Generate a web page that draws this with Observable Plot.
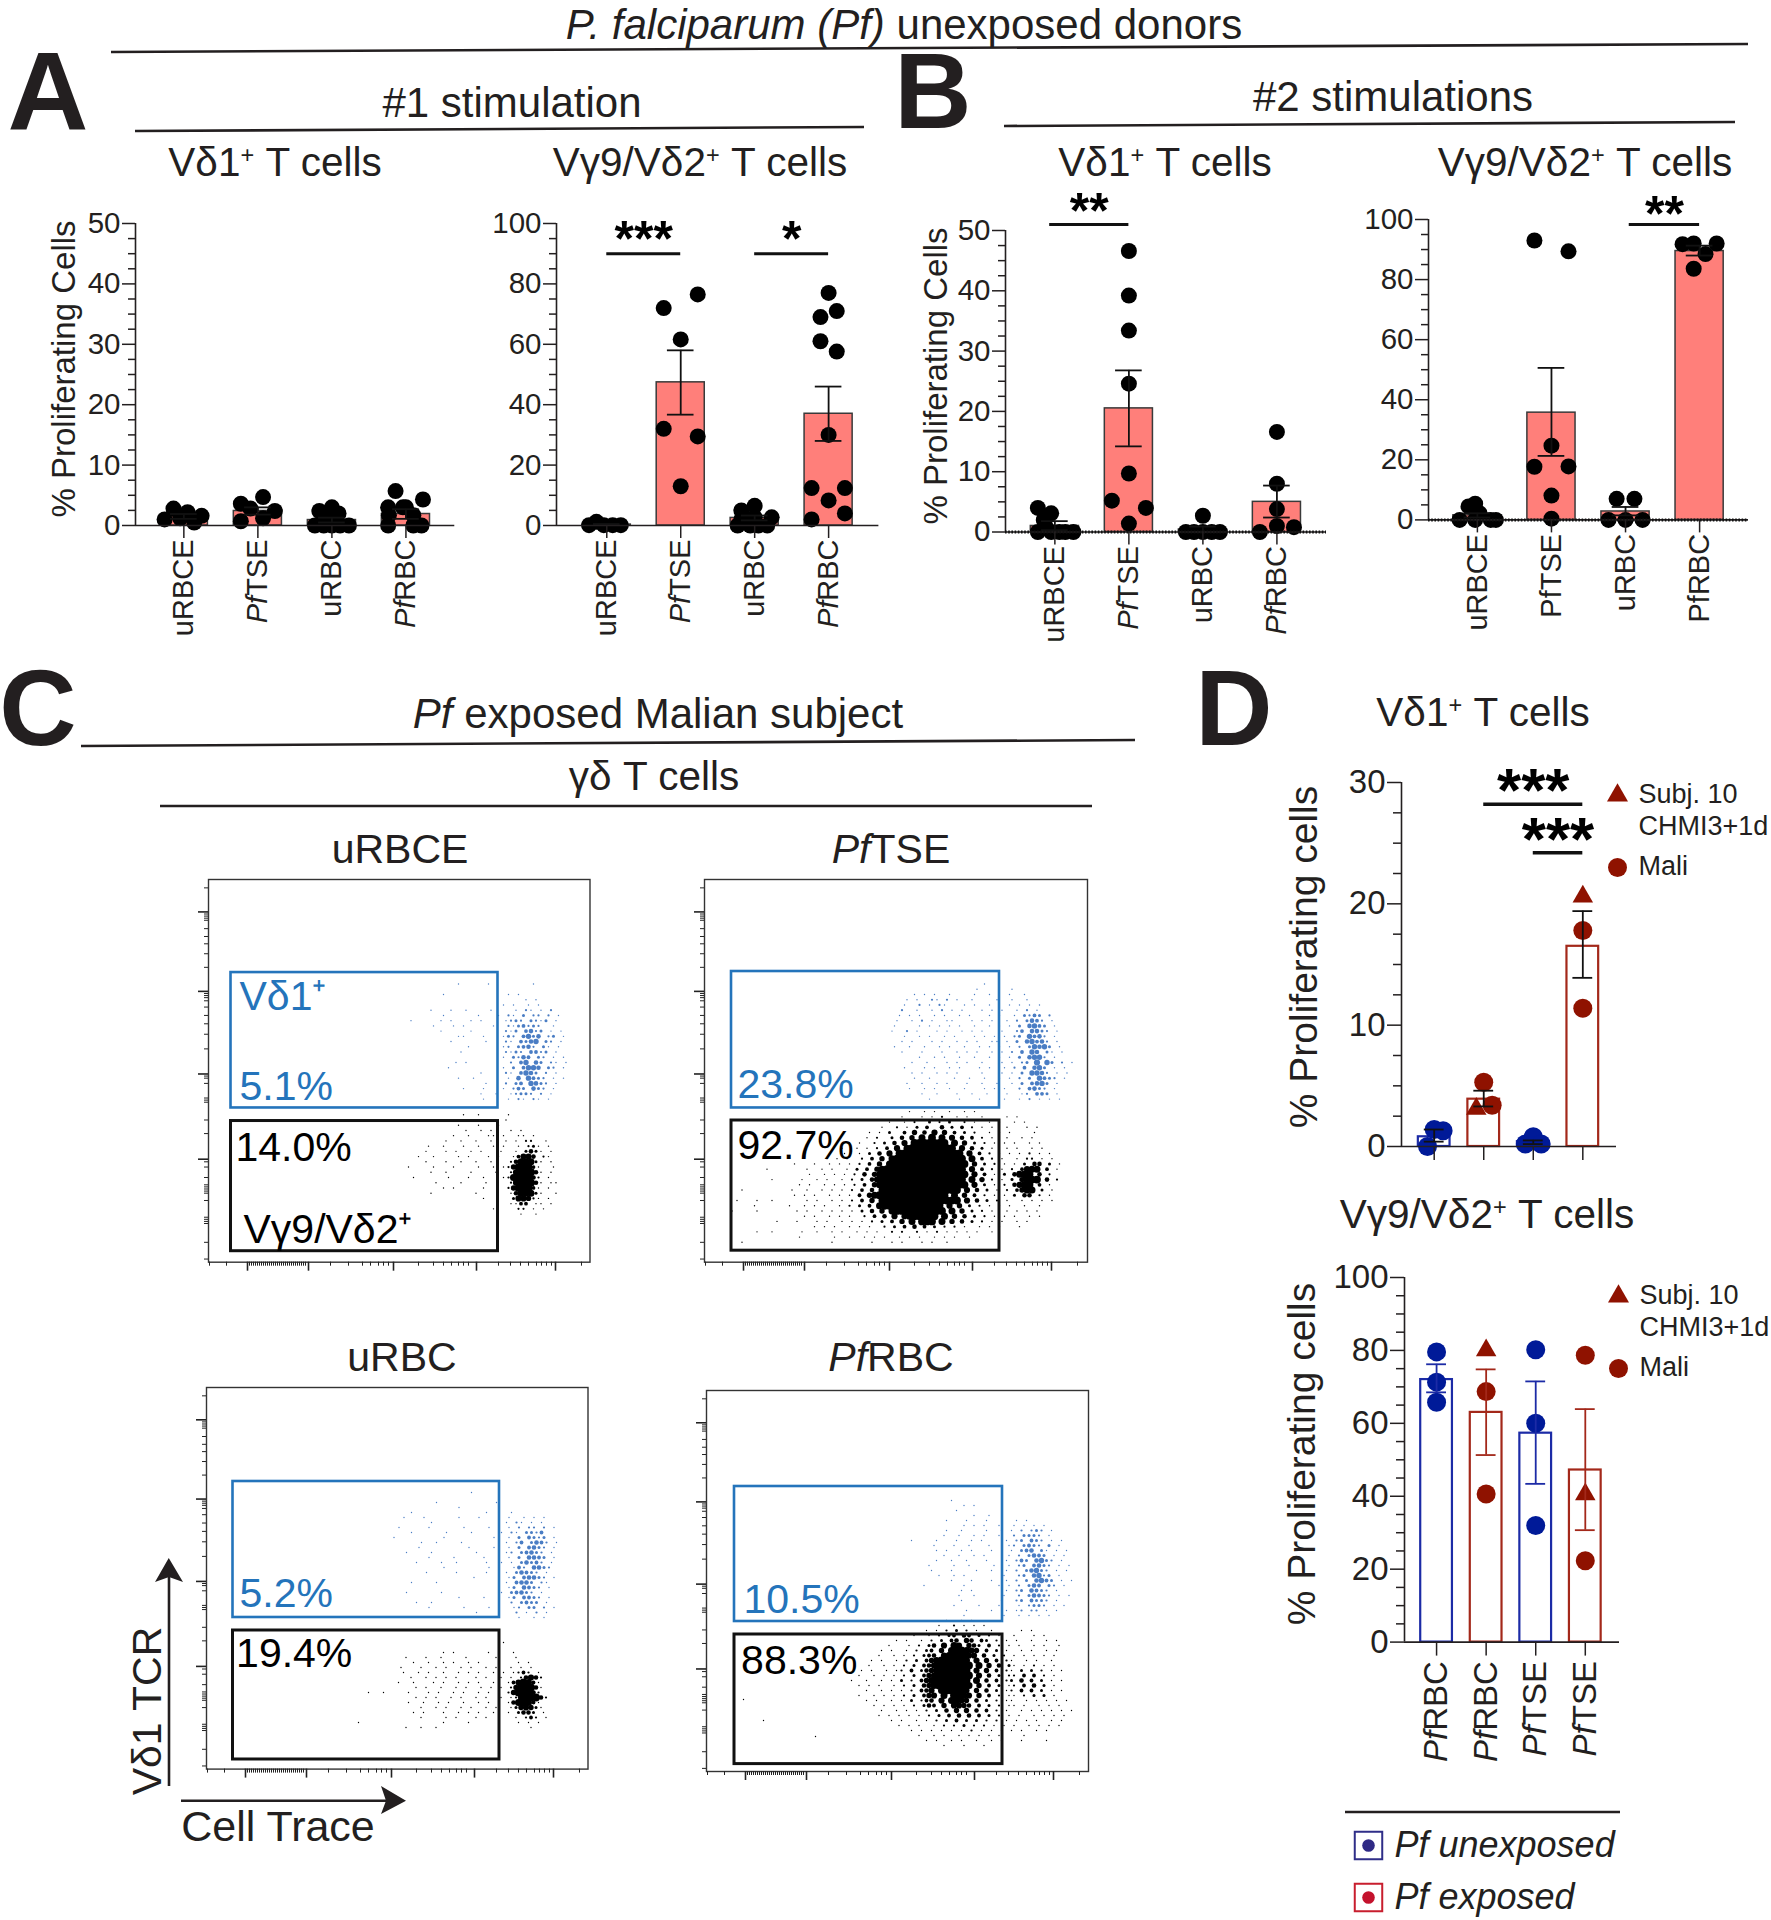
<!DOCTYPE html>
<html>
<head>
<meta charset="utf-8">
<script src="https://cdn.jsdelivr.net/npm/d3@7"></script>
<script src="https://cdn.jsdelivr.net/npm/@observablehq/plot@0.6"></script>
<style>
html,body{margin:0;padding:0;background:#fff;overflow:hidden}
#page{position:relative;width:1771px;height:1920px;font-family:"Liberation Sans",Arial,sans-serif;color:#231f20;overflow:hidden}
#page svg{overflow:visible;max-width:none}
.lab{position:absolute;white-space:nowrap;line-height:1.15;transform:translate(-50%,-50%)}
.lab sup{font-size:58%;line-height:0;vertical-align:baseline;position:relative;top:-.55em}
</style>
</head>
<body>
<div id="page"></div>
<script>
// ---------- bar chart data ----------
const labelsStim = ["uRBCE", "PfTSE", "uRBC", "PfRBC"];
const labelsD = ["PfRBC", "PfRBC", "PfTSE", "PfTSE"];

const a1Means = [1.5, 2.4, 0.9, 1.9];
const a1Low = [1.1, 1.8, 0.5, 1.1];
const a1High = [1.9, 3.0, 1.3, 2.7];
const a1Values = [[1.0,2.8,1.2,2.2,0.5,1.6],[3.6,0.7,2.8,4.7,1.2,2.4],[0,2.4,0,3,1,2,0,0,1.7,0],[5.7,4.3,3,3,0,1.7,0,0,1.7,3]];
const a1Jitter = [[-.26,-.14,-.05,.05,.14,.24],[-.23,-.23,-.1,.07,.07,.23],[-.23,-.17,-.11,0,0,.09,.11,.23,-.11,0],[-.14,.23,-.24,-.04,-.24,.1,.1,.21,-.23,0]];

const a2Means = [0.3, 47.4, 2.5, 37];
const a2Low = [0.1, 36.7, 1.7, 28];
const a2High = [0.5, 58, 3.3, 46];
const a2Values = [[.1,1.2,.1,.1,.1],[72,76.5,61.6,32,29.5,13],[5,6.5,2.7,0,0,0,0,2,2,2.7],[77,71,69,61,57.6,30,12.4,12.4,8.3,2,4]];
const a2Jitter = [[-.24,-.14,-.04,.08,.19],[-.23,.23,0,-.23,.23,0],[-.18,0,.23,-.23,-.06,.05,.17,-.1,-.18,0],[0,.11,-.11,-.11,.11,0,-.23,.22,0,-.23,.22]];

const b1Means = [1, 20.5, 0.4, 5];
const b1Low = [0.3, 14.2, 0, 2.4];
const b1High = [1.8, 26.8, 0.9, 7.7];
const b1Values = [[4,3.1,2,0,0,0,0,0,1],[46.6,39.2,33.4,24.6,9.7,5.2,4,1.4],[2.7,0,0,0,0,0],[16.6,8,3.8,0,1,.8]];
const b1Jitter = [[-.23,-.05,-.15,-.23,-.05,.06,.14,.25,-.13],[0,0,0,0,0,-.23,.23,0],[0,-.23,-.12,0,.12,.23],[0,0,0,-.23,0,.23]];

const b2Means = [1.5, 35.7, 2.8, 89.5];
const b2Low = [0.8, 21.3, 1.5, 88];
const b2High = [2.2, 50.6, 4.3, 91.3];
const b2Values = [[0,4.5,5.4,2.2,0,0,0],[93,89.4,24.7,17.7,17.8,8.1,.4],[7,7,0,0,0],[91.8,92,92,88.5,83.6]];
const b2Jitter = [[-.24,-.12,-.03,.03,-.03,.18,.25],[-.23,.23,0,-.23,.23,0,0],[-.12,.12,-.23,0,.23],[-.23,-.08,.23,.08,-.08]];

const d1Means = [0.8, 3.9, 0.4, 16.5];
const d1Low = [0.4, 3.3, 0.2, 13.9];
const d1High = [1.4, 4.6, 0.5, 19.4];
const d1Values = [[0,1.4,1.3],[5.3,3.4,3.1],[.2,.8,.2],[20.6,17.8,11.4]];
const d1Jitter = [[-.135,0,.18],[0,.17,-.15],[-.16,0,.16],[0,0,0]];
const d1Symbols = [["circle","circle","circle"],["circle","circle","triangle"],["circle","circle","circle"],["triangle","circle","circle"]];

const d2Means = [72, 63, 57.3, 47.2];
const d2Low = [68.5, 51.3, 43.4, 30.7];
const d2High = [76.2, 74.8, 71.5, 63.9];
const d2Values = [[79.6,71.3,65.8],[80,68.7,40.6],[80.2,60,32],[78.7,40.5,22.3]];
const d2Jitter = [[0,0,0],[0,0,0],[0,0,0],[0,0,0]];
const d2Symbols = [["circle","circle","circle"],["triangle","circle","circle"],["circle","circle","circle"],["circle","triangle","circle"]];

// significance brackets
const sigA2 = [{from:0,to:1,y:90,stars:"***",ys:98.5},{from:2,to:3,y:90,stars:"*",ys:98.5}];
const sigB1 = [{from:-.07,to:1,y:51,stars:"**",ys:55}];
const sigB2 = [{from:2.05,to:3,y:98.3,stars:"**",ys:105.5}];
const sigD1 = [{from:1,to:3,y:28.2,stars:"***",ys:30.4},{from:2,to:3,y:24.2,stars:"***",ys:26.4}];

const subjectLegend = ["Subj. 10\nCHMI3+1d", "Mali"];
const subjectSymbols = ["triangle", "circle"];
const groupLegend = ["Pf unexposed", "Pf exposed"];

// ---------- flow cytometry: local dot density (digit = density, blank = no event) ----------
const urbceBlue = [
"          1     1        1     ",
"                               ",
"       1            1 1        ",
"                       1 1     ",
"                   1 1  1 1    ",
"    1   1  1    1    1 21 1 2  ",
"       1      1   1 21 3 22 2 1 ",
"1     1 1   1 1    1232 3213 1  ",
"     1   1 1     1  2134232  1",
"      1     1      213 4523 1 1 ",
"          11   1   132 4635 23 1",
"        1      1   21 4356 32 1 ",
"            1      12 3452 31 1 ",
"          1        2132 4423 1  ",
"                   1 3254 32 1 1",
"         1 1        2 46 53 21 1",
"        1          1 3 4665 32 1",
"              1    21 4653 2 1  ",
"          1  1      1 5 6432 1 1",
"               1   2 34 6532 1  ",
"           1   1   1 243 532 1  ",
"              1  1  12332 2 1   ",
"               1    1 21 21 1   "];
const urbceBlack = [
"            1  1     1         ",
"                 1  1          ",
"           1   1   1           ",
"            1  1 1   1 1       ",
"          1  1   11 1  11 1    ",
"        1  1  1  1  1 1 22  1  ",
"     1  1   1  1  1 1  1 231 1 ",
"    1   1 1  1 1   1  1 3531 1 ",
"   1  1    1 1   1 1  14775 21 ",
"    1   1  1  1  1   2588831 1 ",
" 1    1   1    1  1 12699941  1",
"     1  1    1    1  2799951 1 ",
"  1      1   1  1   12899952 1 ",
"      1    1    1    2799951 11",
"        1 1     1    2699941 1 ",
"     1        1      1588831  1",
"                1     377621 1 ",
"                     1144 11 1 ",
"                  1    22 1 1  ",
"                       1  1    "];
const pftseBlue = [
"                    1             ",
"                  1      1        ",
"      1 1 1  1    1  1   1  1     ",
"    1 1  21 2 1  1    1  1  1     ",
"    1  2 1 21   1 1  1   1 1 1 1  ",
"   2  1  1 2 1 1   1 1 1  1 2 1   ",
"   1 1 1  1 1  1 1   1 1  1 3243 2 ",
"  1  1 2 1  11   1 1 1  1 2 3542 1 ",
"  1    1 1 1 1 1  1  1 1 1 3 5643 1",
" 1  2 1   1 1  1 1 1   1  24 5532 1",
"    1  1 1  1 1   1 1 1 1 23 6452 1 ",
"   1 1   1 1  1 1 1  11 1 3 56452 1",
"  1  1  1  1 1  1  1 1 1 1 2 36563 1",
"   1   1   1  1 1 1  1 1 2 4 65 31 1",
"       1  1 1  1  1  1 1 1 3 5662 1 ",
"     1  1   1 1 1  1   1 1 23 7 63 2 1",
"    1   1 1  1 1   1 1  1 2 4 563 1 1",
"     1 1  1 1 1    1   1 1 3 6652 1 1",
"      1  1    1  1  1  1 1 2 3 6432 1",
"    1  1  1 1   1  1  1  1 3 4563 1 ",
"     1  1 1  1  1   1 1 1  2 4532 1 ",
"       1  1   1  1  1   1  12 443 1 ",
"         1     1   1    1  1 2 1 1 1"];
const pftseBlack = [
"                                     1  1 1  1  1 1                ",
"                                   1   1 1 2  1 1  1    1 1        ",
"                                 1  1 2  3 2 3  2 1  1 1  1 1      ",
"                               1  2 1 3 4  5 3 4 2 1 1  1   1 1    ",
"                             1 1 3  4 6 5 7 6 4 3 2  1 1 1    1    ",
"                            1 2  3 5 6 8 9 8 7 5 4 2 1  1  1 1     ",
"                         1 1  2 3 5 7 9999999 8 6 3 2 1 1 1  1 1   ",
"                       1  1 1 2 4 7 8999999999 7 5 3 1  1 1  1 1   ",
"                     1  1  1 3 5 7 9999999999999 7 4 2 1 1 1 2 1 1 ",
"                    1 1 1  2 4 6 899999999999999 8 4 2 1  1 22 1 1 ",
"              1   1  1 1 1 2 4 6 8999999999999999 6 3 2 1 1 3 55 3 1",
"        1       1  1 1  1 3 4 689999999999999999 7 4 2 1 2 4788 4 1",
"                 1  1 1 1 2 5 6899999999999999999 7 4 1 3 5899 5 2 ",
"         1     1  1 1  1 2 3 5789999999999999999 8 6 2 1 3 6899 5 2",
"               1 1  1 1 1 2 4 6899999999999999999 7 3 1 2 5799 4 1 ",
"   1         1  1  1 1 1 2 4 5 8999999999999999 7 5 3 1 2 4688 3 1 ",
"              1 1 1  1 1 1 4 6899999999999999 8 6 4 2 1 1 3 55 2 1 ",
"  1   1  1      1 1  1 1 2 4 6 8999999999999999 7 5 3 2 1  1 1 1 1 ",
"      1      1  1 1 1  1 2 3 4 8999999999999 7 6 3 2 1 1 1  1  1   ",
" 1    1       1 1  1 1 1 1 3 5 6 89999999999 8 6 3 2 1  1 1 1 1    ",
"                1 1  1 1 1  2 4 5 7 7899999 8 6 5 3 2 1 1 1  1 1   ",
"          1   1   1 1  1 1 1 2 3 4 6 8 999 8 6 5 3 2 1 1  1 1      ",
"                  1 1 1  1 1 1  2 3 4 5 4 3 2 2 1  1 1 1   1       ",
"      1  1     1  1  1 1  1 1 1  2 2  2 1 2 1 1 1 1  1             ",
"               1      1  1  1 1 1  1 1 1  1 1 1  1                 ",
"   1                 1       1   1 1   1 1  1                      "];
const urbcBlue = [
"                     1                ",
"                                      ",
"              1           1           ",
"                  1                   ",
"         1              1    1        ",
"       1   1      1   1     1  1 1 1  ",
"             1              1 21 1 1  ",
"      1     1      1    1   1 2 22 2 1",
"         1      1    1     1 21 3324  ",
"     1         1         1  1 3 4323 1",
"           1  1    1        1 24 3542 1",
"          1         1    1  1 3 4532 1",
"        1    1        1     12 34532 1",
"            1    1     1    1 3 5543 1",
"          1    1  1     1  1 1 35342 1",
"               1        1    142 5532 ",
"            1     1     1   1 35432 1 ",
"                     1      13 45532 1",
"         1    1             1 4553 21 ",
"                          1 13 5432 1 ",
"        1      1           1 34532 1  ",
"                  1    1    13 4432 1 ",
"          1  1               2 3433 1 ",
"            1      1    1    12 33 2 1",
"                      1       2 1 2 1 ",
"                              1  1 1  "];
const urbcBlack = [
"                               1        ",
"                                        ",
"                   1 1      1    1      ",
"           1   1  1    1     1   1      ",
"             1  1  1 1  1 1       1 1   ",
"          1   1  1 1  1 1  1 1  1 1 1   ",
"           1  1 1  1  1 1 1  1 1 1242 1 ",
"            1  1 1 1 1   1 1  1 1 25752 ",
"          1  1   1 1  1 1 1  1  1479841 ",
"             1 1  1  1 1  1 1 1 2699951 ",
"    1  1    1   1 1  1 1  1 1   2699952 ",
"             1 1 1  1 1  1 1  1 12799952",
"            1  1  1 1  1  1 1   1589841 ",
"              1  1 1  1 1  1 1  1367631 ",
"             1 1   1  1 1 1  1  1 3553 1",
"              1    1 1   1 1     1 242 1",
"  1                1    1         1 1 1 ",
"           1  1  1                  1   "];
const pfrbcBlue = [
"          1                      ",
"            1 1                  ",
"           1                     ",
"              1  1               ",
"         1   1   1     1 1       ",
"            1 1 1  1  1 1 1 1    ",
"         1  1    1  1 1 2 232 1   ",
"        1  1  1 1  1  2 3332 1    ",
"  1    1   1  1 1    1 23 432 1 1 ",
"      1   1  1   1   12 3432 3 1  ",
"       1 1  1 1   1   1 345 31 1 1",
"        1  1  1 1    1 2 3543 1 1 ",
"       1  1  1   1   1 243 5632 1 ",
"     1    1  1    1  1 23 4532 1 1",
"      1   1    1  1  1 2 35632 1 1",
"       1  1 1       1  23 5623 1  ",
"          1   1   1  1 2 3 5643 1 1",
"    1       1      1 1 2 354 32 1 ",
"            1 1      1 23 5432 1  ",
"           1  1     1  2 35432 1 1",
"            1       1  23 4332 1  ",
"          1    1   1   1 2332 1 1 ",
"             1    1  1 12 22 1 1  ",
"            1       1  1 1 1 1    "];
const pfrbcBlack = [
"                     1  1 1               ",
"                   1  2 1 1 1             ",
"                 1 1 2 3 2 1  1     1 1   ",
"              1  1 2 34 54 3 2 1  1   1 1  ",
"           1 1  1 2 3 45 65 43 2 1 1  1  1 1",
"         1   1 2 35 7 87 653 4 2 1 1  1 1  1",
"        1 1  1 2 34 6 899876 4 3 1  1 1  1 1",
"       1  1 1 2 345 7899977 5 3 2 1 1 1 1 1",
"      1 1  1 2 3 468999998 7 6 4 21  1 1  1",
"     1  1 1 2 3 4578999999 8 6 5 31 1 2 1 1",
"    1 1  1 12 4 3568999999 7 6 4 21 3 3 2 1 1",
"   1  1 1 1 2 3 4678999999 7 5 3 22 4 4 2 1",
"  1  1  1 1 3 2 4689999999 8 5 4 23 5 4 3 1 1",
"   1 1 1  1 2 3 5689999998 6 4 3 12 4 5 3 1",
"     1  1 1 1 2 457 899987 6 5 3 12 4 4 3 1 1",
"   1  1 1 1 2 3 467 8 9987 6 4 2 11 2 3 3 1",
"     1 1  1 1 3 245 7 8876 5 3 2 11  1 1 1 1 1",
"      1 1 1 1 2 354 6 7765 4 3 2 11 1  1 1 1",
"        1  1 1 1 2 3 5 6 6 5 4 2 1  1 1 1 1 1 1 ",
"       1 1 1 1 1 2 3 4 5 5 4 3 2 1 1  1 1 1 1   ",
"          1 1  1 1 2 3 4 3 3 2 2 1 1 1 1  1 1   ",
"           1 1 1  1 2 2 3 2 2 1 1 1  1 1 1 1    ",
"              1 1 1 1 1 1 2 1 1 1 1 1  1 1      ",
"               1  1 1  1 1 1 1 1    1          ",
"                 1 1  1 1  1  1 1   1    1     ",
"                    1   1   1                  "];

// flow axis ticks (channel position from the plot's left / top)
const flowXMajor = [39, 100, 185, 268, 347];
const flowXMinor = [1,18,41,43,45,47,49,51,53,55,57,59,61,63,65,67,69,71,73,75,77,79,81,83,85,87,89,91,93,95,97,122,140,154,162,170,175,180,210,225,235,243,250,255,260,290,302,312,320,328,333,338,343,373];
const flowYMajor = [31, 107, 186, 267.5];
const flowYMinor = [8,33,35,37,39,47,54.5,61.5,71,84,109,111,113,116,122,130,138,148,162,188,190,195,209,211,213,230,243,270,275,285,292,294,296,298,300,307,323,325,327,329,347,363];

// ---------- page helpers ----------
const page = document.getElementById("page");
const ink = "#231f20";
const noText = () => "";
function place(svg, left, top) {
  d3.select(svg).selectAll("text").filter(function () { return this.textContent.trim() === ""; }).remove();
  svg.style.position = "absolute";
  svg.style.left = left + "px";
  svg.style.top = top + "px";
  page.appendChild(svg);
  return svg;
}
function label(html, cx, cy, size, opts = {}) {
  const el = document.createElement("div");
  el.className = "lab";
  el.innerHTML = html;
  el.style.left = cx + "px";
  el.style.top = cy + "px";
  el.style.fontSize = size + "px";
  if (opts.weight) el.style.fontWeight = opts.weight;
  if (opts.color) el.style.color = opts.color;
  if (opts.lineHeight) el.style.lineHeight = opts.lineHeight;
  if (opts.rotate) el.style.transform = `translate(-50%,-50%) rotate(${opts.rotate}deg)`;
  page.appendChild(el);
}
function italicizePf(svg) {
  d3.select(svg).selectAll("text").each(function () {
    const s = this.textContent;
    if (s.startsWith("Pf") && s.length > 2 && s.length < 7 && !this.querySelector("tspan")) {
      this.textContent = "";
      d3.select(this).append("tspan").attr("font-style", "italic").text("Pf");
      d3.select(this).append("tspan").text(s.slice(2));
    }
  });
}

// ---------- bar panels ----------
function barPanel(s) {
  const mL = 62, mR = 6, mT = 70, mB = 125;
  const stats = s.means.map((m, i) => ({i, m, lo: s.low[i], hi: s.high[i]}));
  const pts = s.values.flatMap((vs, i) => vs.map((v, k) => ({
    x: i + s.jitter[i][k], v,
    sym: s.symbols ? s.symbols[i][k] : "circle",
    col: s.dotColor ? s.dotColor[i] : "#000"
  })));
  const hw = s.barHalf, cap = s.capHalf;
  const barStroke = s.barStroke ? (d => s.barStroke[d.i]) : "#3a3a3a";
  const errStroke = s.errColor ? (d => s.errColor[d.i]) : "#111";
  const svg = Plot.plot({
    width: s.xEnd - s.axisX + mL + mR,
    height: s.y0 - s.yTop + mT + mB,
    marginLeft: mL, marginRight: mR, marginTop: mT, marginBottom: mB,
    style: {fontFamily: '"Liberation Sans", Arial, sans-serif', color: ink, background: "transparent"},
    x: {domain: s.xDomain, label: null},
    y: {domain: [0, s.yMax], label: null},
    symbol: {type: "identity"},
    r: {type: "identity"},
    marks: [
      Plot.rect(stats, {x1: d => d.i - hw, x2: d => d.i + hw, y1: 0, y2: "m", fill: s.barFill, stroke: barStroke, strokeWidth: s.barStrokeWidth}),
      Plot.dot(pts, {x: "x", y: "v", symbol: "sym", r: d => d.sym === "triangle" ? s.r * 0.8 : s.r, fill: "col", stroke: "none"}),
      Plot.ruleX(stats, {x: "i", y1: "lo", y2: "hi", stroke: errStroke, strokeWidth: 1.8}),
      Plot.ruleY(stats, {y: "lo", x1: d => d.i - cap, x2: d => d.i + cap, stroke: errStroke, strokeWidth: 1.8}),
      Plot.ruleY(stats, {y: "hi", x1: d => d.i - cap, x2: d => d.i + cap, stroke: errStroke, strokeWidth: 1.8}),
      Plot.ruleX([s.xDomain[0]], {y1: 0, y2: s.yMax, stroke: ink, strokeWidth: 1.6}),
      Plot.ruleY([0], {x1: s.xDomain[0], x2: s.xDomain[1], stroke: ink, strokeWidth: 1.6}),
      s.dotted ? Plot.ruleY([0], {x1: s.xDomain[0], x2: s.xDomain[1], stroke: "#111", strokeWidth: 3, strokeDasharray: "1.6 1.6"}) : null,
      Plot.axisY({ticks: s.major, tickSize: s.tickMajor, tickPadding: 2, fontSize: s.fontSize, label: null, stroke: ink, strokeWidth: 1.5}),
      Plot.axisY({ticks: s.minor, tickSize: s.tickMinor, tickFormat: noText, label: null, stroke: ink, strokeWidth: 1.5}),
      Plot.axisX({ticks: [0, 1, 2, 3], tickFormat: i => s.labels[i], tickSize: s.tickMajor, tickPadding: s.catPad, tickRotate: -90, fontSize: s.catSize, label: null, stroke: ink, strokeWidth: 1.5}),
      s.sig ? Plot.ruleY(s.sig, {y: "y", x1: "from", x2: "to", stroke: "#111", strokeWidth: s.sigWidth || 3}) : null,
      s.sig ? Plot.text(s.sig, {x: d => (d.from + d.to) / 2, y: "ys", text: "stars", fontSize: s.starSize, fontWeight: "bold", fill: "#000", dy: s.starDy}) : null
    ]
  });
  if (s.italic) italicizePf(svg);
  place(svg, s.axisX - mL, s.yTop - mT);
}
const ticks10 = [0,10,20,30,40,50], minor10 = d3.range(0, 50.1, 2.5).filter(v => v % 10);
const ticks20 = [0,20,40,60,80,100], minor20 = d3.range(0, 100.1, 5).filter(v => v % 20);
const stimStyle = {barHalf: .325, capHalf: .18, barFill: "#ff7f7a", barStrokeWidth: 1.5, r: 8, tickMajor: 13, tickMinor: 7, fontSize: 29.5, catSize: 29, catPad: 1, starSize: 50, starDy: 12};

barPanel({...stimStyle, axisX:134.7, xEnd:454, yTop:223, y0:525, yMax:50, xDomain:[-.653,3.66], major:ticks10, minor:minor10, labels:labelsStim, italic:true, means:a1Means, low:a1Low, high:a1High, values:a1Values, jitter:a1Jitter});
barPanel({...stimStyle, axisX:555.6, xEnd:878, yTop:223, y0:525, yMax:100, xDomain:[-.68,3.68], major:ticks20, minor:minor20, labels:labelsStim, italic:true, means:a2Means, low:a2Low, high:a2High, values:a2Values, jitter:a2Jitter, sig:sigA2});
barPanel({...stimStyle, axisX:1005, xEnd:1326, yTop:229.5, y0:531, yMax:50, xDomain:[-.667,3.67], major:ticks10, minor:minor10, labels:labelsStim, italic:true, dotted:true, means:b1Means, low:b1Low, high:b1High, values:b1Values, jitter:b1Jitter, sig:sigB1});
barPanel({...stimStyle, axisX:1428, xEnd:1748, yTop:218.6, y0:519, yMax:100, xDomain:[-.66,3.66], major:ticks20, minor:minor20, labels:labelsStim, italic:false, dotted:true, means:b2Means, low:b2Low, high:b2High, values:b2Values, jitter:b2Jitter, sig:sigB2});

const blueD = "#001a98", redD = "#8f1200";
const dStyle = {barHalf: .32, capHalf: .2, barFill: "#fff", barStrokeWidth: 2.2, r: 9.5, tickMajor: 14, tickMinor: 8, fontSize: 33, catSize: 33, catPad: 5, starSize: 62, starDy: 14,
  barStroke: ["#1c2ba6","#a3281a","#1c2ba6","#a3281a"], dotColor: [blueD, redD, blueD, redD]};
barPanel({...dStyle, axisX:1401, xEnd:1616, yTop:781.7, y0:1145.7, yMax:30, xDomain:[-.66,3.68], major:[0,10,20,30], minor:d3.range(0,30.1,2.5).filter(v => v % 10), labels:["","","",""], means:d1Means, low:d1Low, high:d1High, values:d1Values, jitter:d1Jitter, symbols:d1Symbols, sig:sigD1, sigWidth:3.5});
barPanel({...dStyle, axisX:1404, xEnd:1619, yTop:1277, y0:1641.6, yMax:100, xDomain:[-.647,3.69], major:ticks20, minor:minor20, labels:labelsD, italic:true, means:d2Means, low:d2Low, high:d2High, values:d2Values, jitter:d2Jitter, symbols:d2Symbols, errColor:["#1c2ba6","#a3281a","#1c2ba6","#a3281a"]});

// legends for panel D
function subjectKey(cx, yTopPx) {
  const rows = subjectLegend.map((name, i) => ({name, sym: subjectSymbols[i]}));
  const svg = Plot.plot({
    width: 150, height: 120, margin: 0, marginLeft: 14, marginTop: 12, marginBottom: 36,
    style: {fontFamily: '"Liberation Sans", Arial, sans-serif', color: ink, background: "transparent"},
    x: {axis: null, domain: [0, 1]},
    y: {axis: null, type: "point", domain: subjectLegend, padding: 0},
    symbol: {type: "identity"},
    r: {type: "identity"},
    marks: [
      Plot.dot(rows, {x: 0, y: "name", symbol: "sym", r: d => d.sym === "triangle" ? 7.8 : 9.5, fill: redD}),
      Plot.text(rows, {x: 0, y: "name", text: "name", textAnchor: "start", dx: 21, dy: -15, fontSize: 27, lineAnchor: "top", lineHeight: 1.18})
    ]
  });
  place(svg, cx - 14, yTopPx - 12);
}
subjectKey(1617, 795);
subjectKey(1618, 1296);

const groupKey = Plot.plot({
  width: 290, height: 102, margin: 0, marginLeft: 22, marginTop: 25, marginBottom: 25,
  style: {fontFamily: '"Liberation Sans", Arial, sans-serif', color: ink, background: "transparent"},
  x: {axis: null, domain: [0, 1]},
  y: {axis: null, type: "point", domain: groupLegend, padding: 0},
  marks: [
    Plot.dot(groupLegend, {x: 0, y: d => d, symbol: "square", r: 15.5, fill: "#fff", stroke: d => d === groupLegend[0] ? "#2f2e88" : "#c81e2e", strokeWidth: 2}),
    Plot.dot(groupLegend, {x: 0, y: d => d, r: 6.3, fill: d => d === groupLegend[0] ? "#2f2a85" : "#c4122d"}),
    Plot.text(groupLegend, {x: 0, y: d => d, text: d => d, textAnchor: "start", dx: 26, fontSize: 36, fontStyle: "italic"})
  ]
});
place(groupKey, 1346, 1820);

// ---------- flow panels ----------
function grid(rows, dx0, dy0, h, ky) {
  const out = [];
  rows.forEach((row, i) => {
    [...row].forEach((c, j) => {
      if (c !== " ") out.push({x: dx0 + j * 5 + (i % 2 ? 2.5 : 0), y: h - (dy0 + i * 5) * ky, d: +c});
    });
  });
  return out;
}
function flowPanel(s) {
  const mL = 14, mB = 14, mT = 2, mR = 2;
  const k = s.h / 366, ky = s.ky;
  const yT = a => a.map(v => s.h - v * k);
  const blue = grid(s.blue, s.blueOrigin[0], s.blueOrigin[1], s.h, ky);
  const black = grid(s.black, s.blackOrigin[0], s.blackOrigin[1], s.h, ky);
  const g = s.gates;
  const svg = Plot.plot({
    width: s.w + mL + mR, height: s.h + mT + mB,
    marginLeft: mL, marginRight: mR, marginTop: mT, marginBottom: mB,
    style: {fontFamily: '"Liberation Sans", Arial, sans-serif', color: ink, background: "transparent"},
    x: {domain: [0, s.w], label: null},
    y: {domain: [0, s.h], label: null},
    r: {type: "linear", domain: [1, 9], range: [0.7, 3.9]},
    marks: [
      Plot.dot(blue, {x: "x", y: "y", r: "d", fill: "#4a7dc4", stroke: "none"}),
      Plot.dot(black, {x: "x", y: "y", r: "d", fill: "#000", stroke: "none"}),
      s.stray ? Plot.dot(s.stray, {x: "x", y: d => s.h - d.dy, r: () => 1, fill: "#000"}) : null,
      Plot.rect([g.blue], {x1: "x1", x2: "x2", y1: d => s.h - d.y1 * ky, y2: d => s.h - d.y2 * ky, stroke: "#2474bb", strokeWidth: 2.6, fill: "none"}),
      Plot.rect([g.black], {x1: "x1", x2: "x2", y1: d => s.h - d.y1 * ky, y2: d => s.h - d.y2 * ky, stroke: "#111", strokeWidth: 3, fill: "none"}),
      Plot.frame({stroke: "#333", strokeWidth: 1.4}),
      Plot.axisX({ticks: flowXMajor, tickSize: 9, tickFormat: noText, label: null, stroke: "#222", strokeWidth: 1.6}),
      Plot.axisX({ticks: flowXMinor, tickSize: 4, tickFormat: noText, label: null, stroke: "#222"}),
      Plot.axisY({ticks: yT(flowYMajor), tickSize: 10, tickFormat: noText, label: null, stroke: "#222", strokeWidth: 1.6}),
      Plot.axisY({ticks: yT(flowYMinor), tickSize: 4, tickFormat: noText, label: null, stroke: "#222"}),
      Plot.text(s.texts.filter(t => t.c === "b"), {x: "x", y: d => s.h - d.y * ky, text: "t", fontSize: 41, textAnchor: "start", fill: "#2474bb"}),
      Plot.text(s.texts.filter(t => t.c === "k"), {x: "x", y: d => s.h - d.y * ky, text: "t", fontSize: 41, textAnchor: "start", fill: "#000"})
    ]
  });
  place(svg, s.left - mL, s.top - mT);
}
flowPanel({left:207.5, top:879, w:381.5, h:382.7, ky:382.7/366, blue:urbceBlue, blueOrigin:[200,100], black:urbceBlack, blackOrigin:[195,225],
  gates:{blue:{x1:22.5,x2:289.5,y1:89,y2:218.5}, black:{x1:22.5,x2:289.5,y1:231,y2:355.5}},
  texts:[{c:"b",t:"V\u03b41\u207a",x:31,y:112},{c:"b",t:"5.1%",x:31,y:198},{c:"k",t:"14.0%",x:27,y:257},{c:"k",t:"V\u03b39/V\u03b42\u207a",x:35,y:335}]});
flowPanel({left:704, top:879, w:383, h:382.7, ky:382.7/366, blue:pftseBlue, blueOrigin:[180,100], black:pftseBlack, blackOrigin:[20,222],
  gates:{blue:{x1:27,x2:295,y1:88,y2:218.5}, black:{x1:27,x2:295,y1:230.5,y2:355}},
  texts:[{c:"b",t:"23.8%",x:33,y:196.5},{c:"k",t:"92.7%",x:33,y:254.5}]});
flowPanel({left:206, top:1387, w:381.5, h:381.6, ky:1, blue:urbcBlue, blueOrigin:[160,105], black:urbcBlack, blackOrigin:[142,255],
  gates:{blue:{x1:26.5,x2:293,y1:94,y2:230}, black:{x1:26.5,x2:293,y1:243,y2:372}},
  texts:[{c:"b",t:"5.2%",x:33,y:206.6},{c:"k",t:"19.4%",x:29.6,y:266.6}]});
flowPanel({left:706, top:1390, w:382, h:381, ky:1, blue:pfrbcBlue, blueOrigin:[195,110], black:pfrbcBlack, blackOrigin:[135,230],
  stray:[{x:37,dy:309},{x:57,dy:330},{x:109,dy:346}],
  gates:{blue:{x1:28,x2:296,y1:96,y2:231}, black:{x1:28,x2:296,y1:244,y2:373.6}},
  texts:[{c:"b",t:"10.5%",x:37,y:209},{c:"k",t:"88.3%",x:34.6,y:270.7}]});

// ---------- section rules and arrows ----------
const NS = "http://www.w3.org/2000/svg";
const over = document.createElementNS(NS, "svg");
over.setAttribute("width", 1771);
over.setAttribute("height", 1920);
over.style.cssText = "position:absolute;left:0;top:0;pointer-events:none";
[[111,52,1748,44],[135,131,864,127],[1004,126,1735,122],[81,746,1135,740],[160,806,1092,806],[1345,1812,1620,1812],[169,1786,169,1575],[181,1800.7,390,1800.7]].forEach(([a,b,c,d]) => {
  const l = document.createElementNS(NS, "line");
  l.setAttribute("x1", a); l.setAttribute("y1", b); l.setAttribute("x2", c); l.setAttribute("y2", d);
  l.setAttribute("stroke", ink); l.setAttribute("stroke-width", 2.6);
  over.appendChild(l);
});
["168.75,1558 155,1582 169,1577 183,1582", "406,1800.7 381,1786 386,1800.7 381,1814"].forEach(p => {
  const g = document.createElementNS(NS, "polygon");
  g.setAttribute("points", p); g.setAttribute("fill", ink);
  over.appendChild(g);
});
page.appendChild(over);

// ---------- text ----------
const T = 42, Tc = 40.5, Ts = 41;
label('<i>P. falciparum (Pf)</i> unexposed donors', 904, 24.5, T);
label('#1 stimulation', 512, 103, T);
label('#2 stimulations', 1393, 97, T);
const vd1 = 'V\u03b41<sup>+</sup> T cells', vg9 = 'V\u03b39/V\u03b42<sup>+</sup> T cells';
label(vd1, 275, 162, Tc); label(vg9, 700, 162, Tc);
label(vd1, 1165, 162, Tc); label(vg9, 1585, 162, Tc);
label('<i>Pf</i> exposed Malian subject', 658, 714, T);
label('\u03b3\u03b4 T cells', 654, 776, Tc);
label('uRBCE', 400, 850, Ts); label('<i>Pf</i>TSE', 891, 850, Ts);
label('uRBC', 402, 1358, Ts); label('<i>Pf</i>RBC', 891, 1358, Ts);
label(vd1, 1483, 711.5, Tc); label(vg9, 1487, 1214, Tc);
label('% Proliferating Cells', 64, 369, 33, {rotate:-90});
label('% Proliferating Cells', 936, 376, 33, {rotate:-90});
label('% Proliferating cells', 1304, 957, 39, {rotate:-90});
label('% Proliferating cells', 1302, 1454, 39, {rotate:-90});
label('V\u03b41 TCR', 148, 1711, 41, {rotate:-90});
label('Cell Trace', 278, 1827, 43);
const big = {weight:"bold", color:"#231f20"};
label('A', 48, 92, 112, big);
label('B', 933, 92, 107, big);
label('C', 38, 709, 107, big);
label('D', 1234, 709, 107, big);
</script>
</body>
</html>
